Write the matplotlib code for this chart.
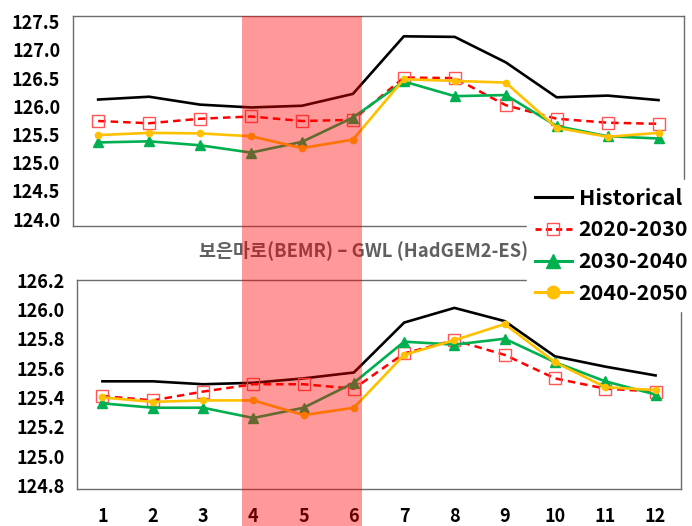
import matplotlib
matplotlib.use("Agg")
import matplotlib.pyplot as plt
import matplotlib.transforms as mtransforms
from matplotlib.patches import Rectangle
from matplotlib.lines import Line2D

plt.rcParams["font.family"] = ["Noto Sans CJK KR", "DejaVu Sans"]

MONTHS = list(range(1, 13))
SERIES = ["Historical", "2020-2030", "2030-2040", "2040-2050"]
TITLE = "보은마로(BEMR) – GWL (HadGEM2-ES)"
HIGHLIGHT = (3.83, 6.17)

# upper panel
top_hist = [126.12, 126.17, 126.03, 125.98, 126.01, 126.22, 127.24, 127.23, 126.78, 126.16, 126.19, 126.11]
top_2020 = [125.74, 125.70, 125.78, 125.82, 125.74, 125.76, 126.51, 126.50, 126.02, 125.78, 125.71, 125.69]
top_2030 = [125.36, 125.38, 125.31, 125.18, 125.37, 125.80, 126.44, 126.18, 126.20, 125.65, 125.47, 125.43]
top_2040 = [125.49, 125.53, 125.52, 125.47, 125.26, 125.41, 126.48, 126.45, 126.42, 125.62, 125.46, 125.53]
top_ticks = [124.0, 124.5, 125.0, 125.5, 126.0, 126.5, 127.0, 127.5]

# lower panel
bot_hist = [125.51, 125.51, 125.49, 125.50, 125.53, 125.57, 125.91, 126.01, 125.92, 125.68, 125.61, 125.55]
bot_2020 = [125.41, 125.38, 125.44, 125.49, 125.49, 125.46, 125.70, 125.79, 125.69, 125.53, 125.46, 125.44]
bot_2030 = [125.36, 125.33, 125.33, 125.26, 125.33, 125.50, 125.78, 125.76, 125.80, 125.64, 125.51, 125.42]
bot_2040 = [125.40, 125.37, 125.38, 125.38, 125.28, 125.33, 125.69, 125.79, 125.90, 125.64, 125.47, 125.45]
bot_ticks = [124.8, 125.0, 125.2, 125.4, 125.6, 125.8, 126.0, 126.2]

STYLES = [
    dict(color="black", lw=1.9),
    dict(color="#FF0000", lw=1.8, ls=(0, (3, 2)), marker="s", ms=8.5,
         mfc="none", mec="#FF5555", mew=1.0),
    dict(color="#00B050", lw=1.9, marker="^", ms=7.5, mec="#00B050"),
    dict(color="#FFC000", lw=1.9, marker="o", ms=4.5, mec="#FFC000"),
]

W, H = 692, 526
fig = plt.figure(figsize=(W / 100, H / 100), dpi=100)
ax_top = fig.add_axes([72.7 / W, 1 - 226 / H, (684 - 72.7) / W, 210 / H])
ax_bot = fig.add_axes([77.3 / W, 1 - 488.5 / H, (680.7 - 77.3) / W, 208.5 / H])

panels = [
    (ax_top, [top_hist, top_2020, top_2030, top_2040], top_ticks, (123.88, 127.60)),
    (ax_bot, [bot_hist, bot_2020, bot_2030, bot_2040], bot_ticks, (124.78, 126.20)),
]

for ax, data, ticks, ylim in panels:
    for vals, st in zip(data, STYLES):
        ax.plot(MONTHS, vals, **st)
    ax.set_xlim(0.5, 12.5)
    ax.set_ylim(*ylim)
    ax.set_yticks(ticks)
    ax.set_yticklabels([f"{t:.1f}" for t in ticks], fontsize=13, fontweight="bold")
    ax.tick_params(length=0, pad=9)
    for s in ax.spines.values():
        s.set_color("#6b6b6b")
        s.set_linewidth(1.0)

ax_top.set_xticks([])
ax_bot.set_xticks(MONTHS)
ax_bot.set_xticklabels([str(m) for m in MONTHS], fontsize=13, fontweight="bold")
ax_bot.tick_params(axis="x", pad=13)

fig.text(364 / W, 1 - 250 / H, TITLE, ha="center", va="center",
         fontsize=13.3, fontweight="bold", color="#606060")

# legend with bigger markers, white box over the frames
handles = [
    Line2D([], [], color="black", lw=2.2),
    Line2D([], [], color="#FF0000", lw=2.0, ls=(0, (2.2, 1.5)), marker="s", ms=9,
           mfc="none", mec="#FF5555", mew=1.0),
    Line2D([], [], color="#00B050", lw=2.2, marker="^", ms=10),
    Line2D([], [], color="#FFC000", lw=2.2, marker="o", ms=9),
]
leg = fig.legend(handles, SERIES, loc="upper left",
                 bbox_to_anchor=(527 / W, 1 - 180 / H), frameon=True,
                 fancybox=False, edgecolor="white", facecolor="white", framealpha=1,
                 prop=dict(size=15.5, weight="bold"), handlelength=1.75,
                 handletextpad=0.3, labelspacing=0.5, borderpad=0.35,
                 borderaxespad=0)
leg.set_zorder(20)

# translucent red highlight for months 4-6, over everything
trans = mtransforms.blended_transform_factory(ax_top.transData, fig.transFigure)
band = Rectangle((HIGHLIGHT[0], 0), HIGHLIGHT[1] - HIGHLIGHT[0], 1 - 16 / H,
                 transform=trans, color="#FF0000", alpha=0.4, lw=0, zorder=30)
fig.patches.append(band)

fig.savefig("out.png", dpi=100, facecolor="white")
